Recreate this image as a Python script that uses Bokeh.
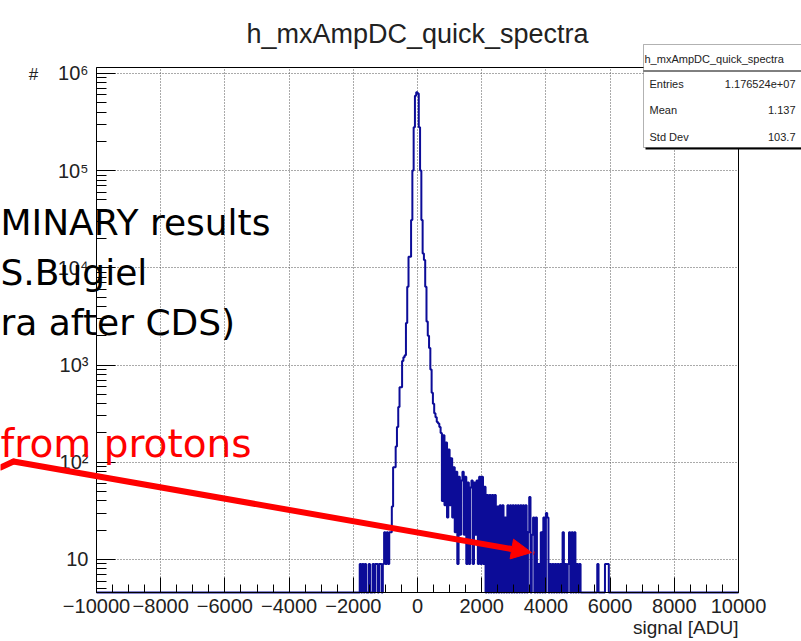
import math
import numpy as np
from bokeh.plotting import figure
from bokeh.models import Range1d, FixedTicker, Label, BoxAnnotation, Arrow, NormalHead
from bokeh.embed import file_html
from bokeh.resources import INLINE

# ---------------- data ----------------
TITLE = "h_mxAmpDC_quick_spectra"
BIN_START = -1800          # left edge of first listed bin [ADU]
BIN_WIDTH = 40             # bin width [ADU]
COUNTS = [
    9, 0, 9, 0, 9, 0, 0, 9, 0, 0,                                  # -1800
    9, 0, 9, 9, 0, 9, 9, 0, 9, 19,                                 # -1400
    9, 19, 9, 19, 19, 35, 89, 89, 145, 230,                        # -1000
    370, 590, 590, 1100, 1200, 1260, 2700, 6400, 13000, 13000,     # -600
    31000, 100000, 280000, 590000, 640000, 620000, 280000, 100000, 31000, 14000,  # -200
    12000, 6400, 2800, 2000, 1500, 900, 520, 400, 320, 290,        # 200
    260, 250, 230, 200, 40, 190, 36, 160, 27, 135,                 # 600
    36, 110, 27, 89, 19, 80, 9, 71, 18, 65,                        # 1000
    80, 18, 71, 9, 62, 9, 55, 65, 9, 62,                           # 1400
    18, 65, 9, 71, 9, 71, 9, 56, 0, 46,                            # 1800
    0, 46, 0, 46, 0, 46, 0, 35, 0, 36,                             # 2200
    0, 36, 0, 27, 0, 36, 0, 36, 0, 36,                             # 2600
    0, 36, 0, 36, 0, 36, 0, 36, 0, 36,                             # 3000
    0, 19, 44, 0, 18, 27, 0, 27, 0, 9,                             # 3400
    0, 19, 0, 27, 0, 30, 27, 0, 9, 0,                              # 3800
    9, 0, 9, 0, 9, 0, 9, 0, 19, 0,                                 # 4200
    9, 0, 9, 19, 0, 19, 0, 19, 0, 9,                               # 4600
    0, 9, 0, 0, 0, 0, 0, 0, 0, 0,                                  # 5000
    0, 0, 0, 0, 0, 9, 0, 0, 0, 0,                                  # 5400
    0, 9, 9, 9, 0,                                                 # 5800
]

X0, X1 = -10000, 10000          # histogram axis range
Y0, Y1 = 4.57, 1.15e6           # log axis range
X_TICKS = [-10000, -8000, -6000, -4000, -2000, 0, 2000, 4000, 6000, 8000, 10000]
X_TICK_LABELS = ["\u221210000", "\u22128000", "\u22126000", "\u22124000", "\u22122000",
                 "0", "2000", "4000", "6000", "8000", "10000"]
Y_TICKS = [10, 100, 1000, 10000, 100000, 1000000]
Y_TICK_LABELS = ["10", "10\u00b2", "10\u00b3", "10\u2074", "10\u2075", "10\u2076"]
X_LABEL = "signal [ADU]"
Y_LABEL = "#"

STATS_NAMES = ["Entries", "Mean", "Std Dev"]
STATS_VALUES = ["1.176524e+07", "1.137", "103.7"]

SLIDE_LINES = ["MINARY results", "S.Bugiel", "ra after CDS)"]
SLIDE_NOTE = "from protons"

# ---------------- layout (pixels) ----------------
W, H = 801, 641
FL, FR, FT, FB = 96, 738, 67, 592      # histogram box inside the canvas

PX_PER_X = (FR - FL) / (X1 - X0)
PX_PER_DEC = (FB - FT) / (math.log10(Y1) - math.log10(Y0))
XR = (X0 - FL / PX_PER_X, X1 + (W - FR) / PX_PER_X)
YR = (10 ** (math.log10(Y0) - (H - FB) / PX_PER_DEC), 10 ** (math.log10(Y1) + FT / PX_PER_DEC))


def px_x(sx):
    return X0 + (sx - FL) / PX_PER_X


def px_y(sy):
    return 10 ** (math.log10(Y1) - (sy - FT) / PX_PER_DEC)


p = figure(width=W, height=H, x_range=Range1d(*XR), y_range=Range1d(*YR),
           y_axis_type="log", output_backend="svg", toolbar_location=None,
           min_border=0, title=None)
p.background_fill_color = "white"
p.border_fill_color = "white"
p.outline_line_color = None

# ---------------- axes (drawn at the histogram box edges) ----------------
x_minor = list(range(-10000, 10001, 500))
y_minor = [m * 10 ** k for k in range(0, 7) for m in range(2, 10) if Y0 <= m * 10 ** k <= Y1]
p.xaxis.ticker = FixedTicker(ticks=X_TICKS, minor_ticks=x_minor)
p.yaxis.ticker = FixedTicker(ticks=Y_TICKS, minor_ticks=y_minor)
p.xaxis.major_label_overrides = dict(zip(X_TICKS, X_TICK_LABELS))
p.yaxis.major_label_overrides = dict(zip(Y_TICKS, Y_TICK_LABELS))
p.xaxis.fixed_location = Y0
p.yaxis.fixed_location = X0
p.xaxis.bounds = (X0, X1)
p.yaxis.bounds = (Y0, Y1)

for ax in (p.xaxis, p.yaxis):
    ax.axis_line_color = "black"
    ax.major_tick_line_color = "black"
    ax.minor_tick_line_color = "black"
    ax.major_tick_out = 0
    ax.minor_tick_out = 0
    ax.major_label_text_font = "Liberation Sans"
    ax.major_label_text_font_size = "20px"
    ax.major_label_text_color = "#222222"
p.xaxis.major_tick_in = 15
p.xaxis.minor_tick_in = 8
p.yaxis.major_tick_in = 19
p.yaxis.minor_tick_in = 10
p.xaxis.major_label_standoff = 6
p.yaxis.major_label_standoff = 8

# ---------------- grid ----------------
xg, yg = p.xgrid[0], p.ygrid[0]
GRID_STYLE = dict(line_color="#555555", line_dash="1 2", line_width=1)
if "cross_bounds" in xg.properties():
    xg.cross_bounds = (Y0, Y1)
    yg.cross_bounds = (X0, X1)
    for g in (xg, yg):
        g.grid_line_color = GRID_STYLE["line_color"]
        g.grid_line_dash = GRID_STYLE["line_dash"]
        g.grid_line_width = 1
else:
    xg.grid_line_color = None
    yg.grid_line_color = None
    inner_x = [t for t in X_TICKS if X0 < t < X1]
    p.segment(x0=inner_x, x1=inner_x, y0=Y0, y1=Y1, **GRID_STYLE)
    p.segment(x0=X0, x1=X1, y0=Y_TICKS, y1=Y_TICKS, **GRID_STYLE)

# histogram box
p.quad(left=[X0], right=[X1], bottom=[Y0], top=[Y1], fill_color=None,
       line_color="black", line_width=1)

# ---------------- histogram outline ----------------
counts = np.array(COUNTS, dtype=float)
vals = np.where(counts > 0, counts, Y0)
edges = BIN_START + BIN_WIDTH * np.arange(len(counts) + 1)
xs = np.concatenate([[X0, edges[0]], np.repeat(edges, 2)[1:-1], [edges[-1], X1]])
ys = np.concatenate([[Y0, Y0], np.repeat(vals, 2), [Y0, Y0]])
p.line(xs, ys, line_color="#0c0c98", line_width=2)

# ---------------- titles ----------------
p.add_layout(Label(x=px_x(417), y=px_y(33), text=TITLE, text_align="center",
                   text_baseline="alphabetic", text_font="Liberation Sans",
                   text_font_size="27px", text_color="#222222"))
p.add_layout(Label(x=px_x(FR), y=px_y(627), text=X_LABEL, text_align="right",
                   text_baseline="middle", text_font="Liberation Sans",
                   text_font_size="19px", text_color="#222222"))
p.add_layout(Label(x=px_x(33), y=px_y(74), text=Y_LABEL, text_align="center",
                   text_baseline="middle", text_font="Liberation Sans",
                   text_font_size="17px", text_color="#222222"))

# ---------------- stats box ----------------
p.add_layout(BoxAnnotation(left=px_x(645), right=px_x(812), top=px_y(46), bottom=px_y(149),
                           fill_color="black", fill_alpha=1, line_alpha=0))
p.add_layout(BoxAnnotation(left=px_x(643), right=px_x(810), top=px_y(44), bottom=px_y(147),
                           fill_color="white", fill_alpha=1, line_color="black", line_width=1))
p.add_layout(Arrow(end=None, x_start=px_x(643), y_start=px_y(70.5), x_end=px_x(810),
                   y_end=px_y(70.5), line_color="black", line_width=1))
p.add_layout(Label(x=px_x(644), y=px_y(58), text=TITLE, text_align="left",
                   text_baseline="middle", text_font="Liberation Sans",
                   text_font_size="11px", text_color="#222222"))
for i, (name, val) in enumerate(zip(STATS_NAMES, STATS_VALUES)):
    sy = 83 + i * 26.5
    p.add_layout(Label(x=px_x(649), y=px_y(sy), text=name, text_align="left",
                       text_baseline="middle", text_font="Liberation Sans",
                       text_font_size="11px", text_color="#222222"))
    p.add_layout(Label(x=px_x(795), y=px_y(sy), text=val, text_align="right",
                       text_baseline="middle", text_font="Liberation Sans",
                       text_font_size="11px", text_color="#222222"))

# ---------------- slide overlay ----------------
for i, line in enumerate(SLIDE_LINES):
    p.add_layout(Label(x=px_x(0), y=px_y(222 + 50 * i), text=line, text_align="left",
                       text_baseline="alphabetic", text_font="DejaVu Sans",
                       text_font_size="36px", text_color="black"))
p.add_layout(Label(x=px_x(0), y=px_y(443), text=SLIDE_NOTE, text_align="left",
                   text_baseline="alphabetic", text_font="DejaVu Sans",
                   text_font_size="39px", text_color="#ff0000"))

p.add_layout(Arrow(end=None, x_start=px_x(0), y_start=px_y(467), x_end=px_x(13),
                   y_end=px_y(461), line_color="#ff0000", line_width=6, line_cap="round"))
p.add_layout(Arrow(end=NormalHead(size=20, fill_color="#ff0000", line_color="#ff0000"),
                   x_start=px_x(13), y_start=px_y(461), x_end=px_x(531), y_end=px_y(552),
                   line_color="#ff0000", line_width=6, line_cap="round"))

open("out.html", "w").write(file_html(p, INLINE))
